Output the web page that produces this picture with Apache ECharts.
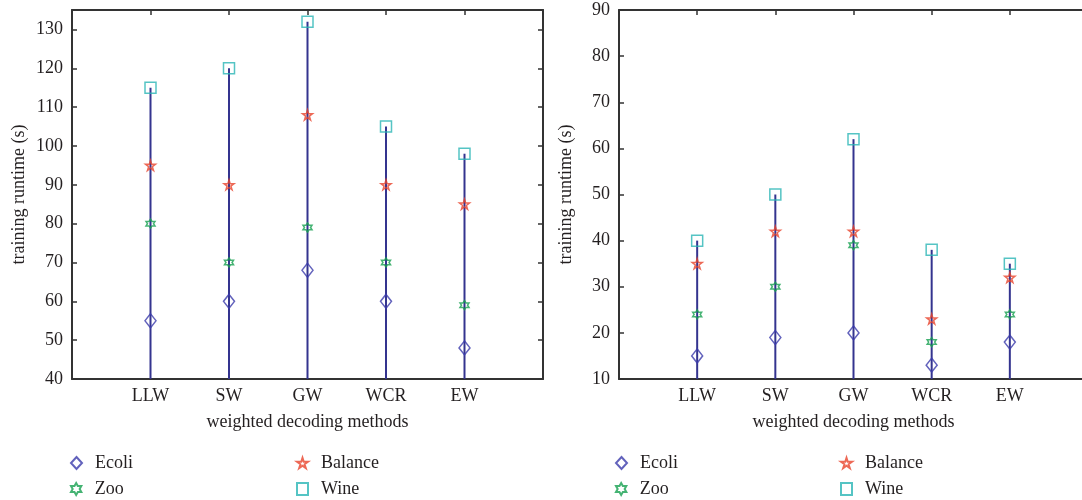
<!DOCTYPE html>
<html>
<head>
<meta charset="utf-8">
<script src="https://cdn.jsdelivr.net/npm/echarts@6/dist/echarts.min.js"></script>
<style>
  html, body { margin: 0; padding: 0; background: #fff; }
  #chart { width: 1082px; height: 500px; }
</style>
</head>
<body>
<div id="chart"></div>
<script>
// 类别 (x 轴)
var methods = ['LLW', 'SW', 'GW', 'WCR', 'EW'];

// 左图数据
var leftEcoli = [55, 60, 68, 60, 48];
var leftZoo = [80, 70, 79, 70, 59];
var leftBalance = [95, 90, 108, 90, 85];
var leftWine = [115, 120, 132, 105, 98];

// 右图数据
var rightEcoli = [15, 19, 20, 13, 18];
var rightZoo = [24, 30, 39, 18, 24];
var rightBalance = [35, 42, 42, 23, 32];
var rightWine = [40, 50, 62, 38, 35];

var FONT = 'Liberation Serif';
var FS = 18;
var TXT = '#231f20';
var AXIS = '#333333';
var STEM = '#34348f';

var starPath = 'path://M50,0 L61,35 L98,35 L68,57 L79,91 L50,70 L21,91 L32,57 L2,35 L39,35 Z';
var hexPath = 'path://M50,0 L64,25 L93,25 L79,50 L93,75 L64,75 L50,100 L36,75 L7,75 L21,50 L7,25 L36,25 Z';

function pts(arr) {
  return arr.map(function (v, i) { return [i + 1, v]; });
}

var marks = {
  Ecoli: { symbol: 'diamond', size: [11, 14], color: '#3b3bab' },
  Balance: { symbol: starPath, size: 10, color: '#e8432c' },
  Zoo: { symbol: hexPath, size: 9, color: '#17a050' },
  Wine: { symbol: 'rect', size: 11, color: '#2bb5b5' }
};

function markSeries(name, arr, idx) {
  var m = marks[name];
  return {
    name: name,
    type: 'scatter',
    xAxisIndex: idx * 2,
    yAxisIndex: idx * 2,
    symbol: m.symbol,
    symbolSize: m.size,
    itemStyle: { color: 'rgba(255,255,255,0)', borderColor: m.color, borderWidth: 1.5 },
    data: pts(arr),
    z: 5
  };
}

// 竖线 (stem)，从轴底画到 Wine 的值
function stemSeries(arr, idx) {
  return {
    name: 'stem',
    type: 'bar',
    xAxisIndex: idx * 2,
    yAxisIndex: idx * 2,
    barWidth: 2,
    itemStyle: { color: STEM },
    data: pts(arr),
    z: 3
  };
}

function xAxes(gridIndex) {
  return [{
    type: 'value', gridIndex: gridIndex, min: 0, max: 6, interval: 1,
    name: 'weighted decoding methods', nameLocation: 'middle', nameGap: 34,
    nameTextStyle: { fontFamily: FONT, fontSize: FS, color: TXT },
    axisLine: { lineStyle: { color: AXIS, width: 2 } },
    axisTick: { show: false },
    splitLine: { show: false },
    axisLabel: {
      fontFamily: FONT, fontSize: FS, color: TXT, margin: 8,
      formatter: function (v) { return methods[v - 1] || ''; }
    }
  }, {
    type: 'value', gridIndex: gridIndex, min: 0, max: 6, interval: 1, position: 'top',
    axisLine: { onZero: false, lineStyle: { color: AXIS, width: 2 } },
    axisTick: { inside: true, length: 5, lineStyle: { color: AXIS, width: 1.5 } },
    axisLabel: { show: false },
    splitLine: { show: false }
  }];
}

function yAxes(gridIndex, min, max) {
  return [{
    type: 'value', gridIndex: gridIndex, min: min, max: max, interval: 10,
    name: 'training runtime (s)', nameLocation: 'middle', nameGap: 44,
    nameTextStyle: { fontFamily: FONT, fontSize: FS, color: TXT },
    axisLine: { show: true, lineStyle: { color: AXIS, width: 2 } },
    axisTick: { show: true, inside: true, length: 5, lineStyle: { color: AXIS, width: 1.5 } },
    splitLine: { show: false },
    axisLabel: { fontFamily: FONT, fontSize: FS, color: TXT, margin: 9, showMaxLabel: max % 10 === 0 }
  }, {
    type: 'value', gridIndex: gridIndex, min: min, max: max, interval: 10, position: 'right',
    axisLine: { show: true, onZero: false, lineStyle: { color: AXIS, width: 2 } },
    axisTick: { show: true, inside: true, length: 5, lineStyle: { color: AXIS, width: 1.5 } },
    axisLabel: { show: false },
    splitLine: { show: false }
  }];
}

function legendItem(name, left, top) {
  return {
    data: [name], left: left, top: top, orient: 'horizontal',
    itemWidth: 11, itemHeight: 12, selectedMode: false,
    textStyle: { fontFamily: FONT, fontSize: FS, color: TXT, padding: [0, 0, 0, 8] }
  };
}

var chart = echarts.init(document.getElementById('chart'), null, { renderer: 'canvas' });
var option = {
  animation: false,
  backgroundColor: '#fff',
  grid: [
    { left: 72, top: 10, width: 471, height: 369, outerBoundsMode: 'none' },
    { left: 619, top: 10, width: 469, height: 369, outerBoundsMode: 'none' }
  ],
  xAxis: xAxes(0).concat(xAxes(1)),
  yAxis: yAxes(0, 40, 135).concat(yAxes(1, 10, 90)),
  legend: [
    legendItem('Ecoli', 65, 449), legendItem('Balance', 291, 449),
    legendItem('Zoo', 65, 475), legendItem('Wine', 291, 475),
    legendItem('Ecoli', 610, 449), legendItem('Balance', 835, 449),
    legendItem('Zoo', 610, 475), legendItem('Wine', 835, 475)
  ],
  series: [
    stemSeries(leftWine, 0),
    markSeries('Ecoli', leftEcoli, 0),
    markSeries('Balance', leftBalance, 0),
    markSeries('Zoo', leftZoo, 0),
    markSeries('Wine', leftWine, 0),
    stemSeries(rightWine, 1),
    markSeries('Ecoli', rightEcoli, 1),
    markSeries('Balance', rightBalance, 1),
    markSeries('Zoo', rightZoo, 1),
    markSeries('Wine', rightWine, 1)
  ]
};
chart.setOption(option);
</script>
</body>
</html>
